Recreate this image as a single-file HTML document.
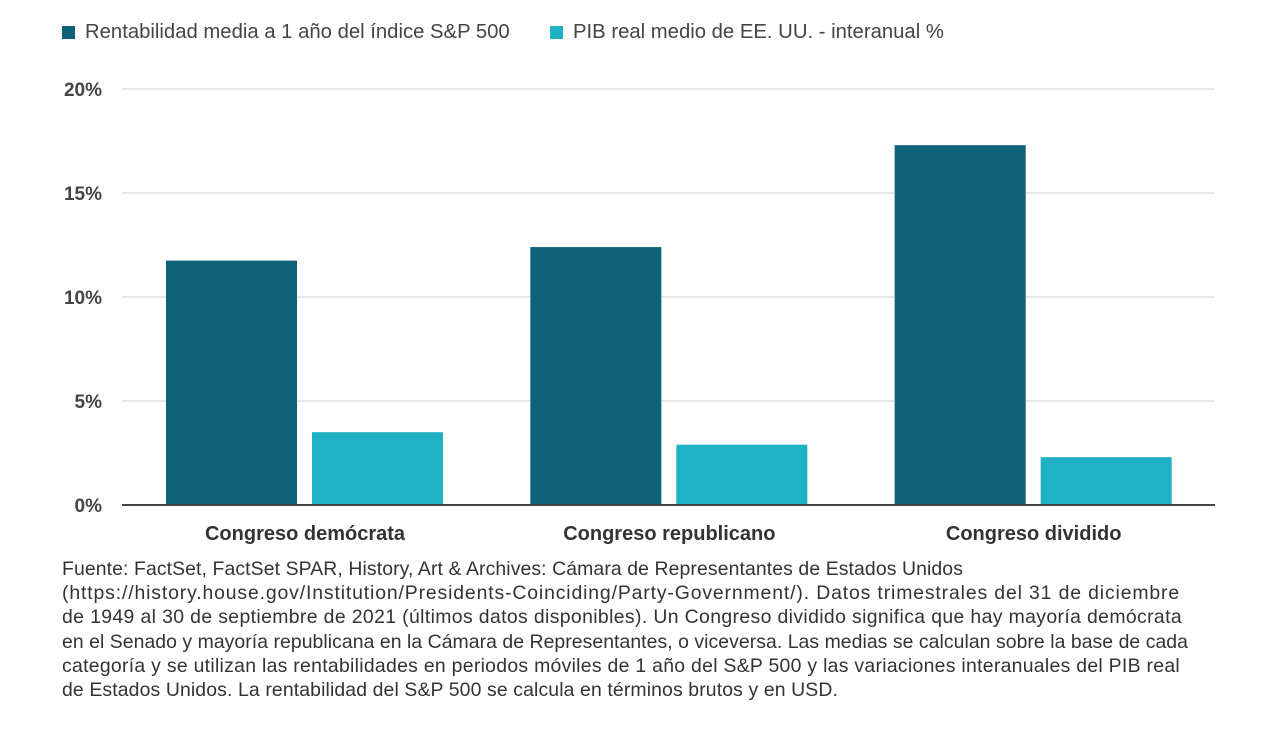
<!DOCTYPE html>
<html><head><meta charset="utf-8"><style>
body{margin:0;width:1275px;height:740px;background:#fff;font-family:"Liberation Sans",sans-serif;overflow:hidden;position:relative}
.leg{position:absolute;top:21px;font-size:20.3px;color:#444;display:flex;align-items:center}
.sw{width:13px;height:13px;margin-right:10px}
#note{position:absolute;left:62px;top:557px;width:1200px;font-size:19.4px;line-height:24.2px;color:#333;white-space:nowrap}
#note span{display:inline-block}
</style></head><body>
<div class="leg" style="left:62px"><div class="sw" style="background:#0d6179"></div>Rentabilidad media a 1 año del índice S&amp;P 500</div>
<div class="leg" style="left:550px"><div class="sw" style="background:#1fb2c5"></div>PIB real medio de EE. UU. - interanual %</div>
<svg id="chart" width="1275" height="560" style="position:absolute;left:0;top:0"></svg>
<div id="note"><span data-w="901">Fuente: FactSet, FactSet SPAR, History, Art &amp; Archives: Cámara de Representantes de Estados Unidos</span><br><span data-w="1118">(https://history.house.gov/Institution/Presidents-Coinciding/Party-Government/). Datos trimestrales del 31 de diciembre</span><br><span data-w="1120">de 1949 al 30 de septiembre de 2021 (últimos datos disponibles). Un Congreso dividido significa que hay mayoría demócrata</span><br><span data-w="1126">en el Senado y mayoría republicana en la Cámara de Representantes, o viceversa. Las medias se calculan sobre la base de cada</span><br><span data-w="1118">categoría y se utilizan las rentabilidades en periodos móviles de 1 año del S&amp;P 500 y las variaciones interanuales del PIB real</span><br><span data-w="776">de Estados Unidos. La rentabilidad del S&amp;P 500 se calcula en términos brutos y en USD.</span></div>
<script>
document.querySelectorAll('#note span').forEach(s=>{
 const w=s.getBoundingClientRect().width, t=+s.dataset.w, n=s.textContent.length;
 s.style.letterSpacing=((t-w)/n)+'px';
});
const categories=["Congreso demócrata","Congreso republicano","Congreso dividido"];
const spReturns=[11.75,12.4,17.3];
const gdpGrowth=[3.5,2.9,2.3];
const ticks=[0,5,10,15,20];
const tickLabels=["0%","5%","10%","15%","20%"];
const svg=document.getElementById('chart');const NS="http://www.w3.org/2000/svg";
const x0=122,x1=1215,y0=505,y20=89;
const y=v=>y0-(v/20)*(y0-y20);
const gw=(x1-x0)/categories.length;
function mk(t,a){const e=document.createElementNS(NS,t);for(const k in a)e.setAttribute(k,a[k]);svg.appendChild(e);return e;}
ticks.forEach((t,i)=>{
 if(t>0){const l=mk('line',{x1:x0,x2:x1,y1:y(t),y2:y(t),stroke:'#cfcfcf','stroke-width':1});
 
 }
 const tx=mk('text',{x:102,y:y(t)+7,'text-anchor':'end','font-size':19,'font-weight':'bold',fill:'#444','font-family':'Liberation Sans'});
 tx.textContent=tickLabels[i];
 
 
});
categories.forEach((c,i)=>{
 const gx=x0+gw*i;
 const b1=mk('rect',{x:gx+44,y:y(spReturns[i]),width:131,height:y0-y(spReturns[i]),fill:'#0d6179'});
 
 
 const b2=mk('rect',{x:gx+190,y:y(gdpGrowth[i]),width:131,height:y0-y(gdpGrowth[i]),fill:'#1fb2c5'});
 
 
 const t=mk('text',{x:gx+183,y:540,'text-anchor':'middle','font-size':20,'font-weight':'bold',fill:'#333','font-family':'Liberation Sans'});
 t.textContent=c;
 
 
});
const ax=mk('line',{x1:x0,x2:x1,y1:y0,y2:y0,stroke:'#444','stroke-width':2});


</script>
</body></html>
